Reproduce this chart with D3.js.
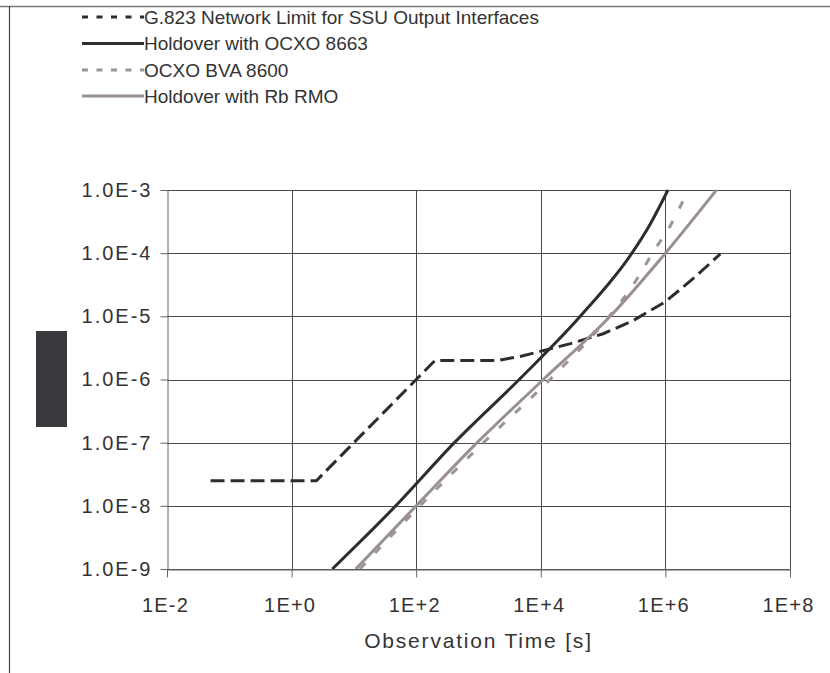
<!DOCTYPE html>
<html>
<head>
<meta charset="utf-8">
<script src="https://cdn.jsdelivr.net/npm/d3@7"></script>
<style>
  body { margin: 0; background: #fff; }
  svg text { font-family: "Liberation Sans", Arial, sans-serif; fill: #333; }
</style>
</head>
<body>
<div id="chart"></div>
<script>
// observation time [s] vs MTIE [s]
let g823Tau = [0.05, 2.5, 200, 2000, 5000, 1e4, 3e4, 1e5, 3e5, 1e6, 3e6, 7.6e6];
let g823Val = [2.5e-8, 2.5e-8, 2e-6, 2e-6, 2.35e-6, 2.8e-6, 3.7e-6, 5.3e-6, 8.5e-6, 1.7e-5, 4.2e-5, 9.7e-5];

let ocxo8663Tau = [4.5, 47, 410, 4500, 4.3e4, 2.9e5, 5.6e5, 1.1e6];
let ocxo8663Val = [1e-9, 1e-8, 1e-7, 1e-6, 1e-5, 1e-4, 2.8e-4, 1e-3];

let bvaTau = [12.5, 115, 1200, 1.4e4, 1.25e5, 2.9e5, 7.2e5, 1.17e6, 1.9e6];
let bvaVal = [1e-9, 1e-8, 1e-7, 1e-6, 1e-5, 2.95e-5, 1.26e-4, 2.6e-4, 6.6e-4];

let rbTau = [10.7, 100, 950, 1.1e4, 1.3e5, 1e6, 6.6e6];
let rbVal = [1e-9, 1e-8, 1e-7, 1e-6, 1e-5, 1e-4, 1e-3];

let seriesNames = ["G.823 Network Limit for SSU Output Interfaces", "Holdover with OCXO 8663", "OCXO BVA 8600", "Holdover with Rb RMO"];

let xTicks = [1e-2, 1, 1e2, 1e4, 1e6, 1e8];
let xTickLabels = ["1E-2", "1E+0", "1E+2", "1E+4", "1E+6", "1E+8"];
let yTicks = [1e-9, 1e-8, 1e-7, 1e-6, 1e-5, 1e-4, 1e-3];
let yTickLabels = ["1.0E-9", "1.0E-8", "1.0E-7", "1.0E-6", "1.0E-5", "1.0E-4", "1.0E-3"];

let xTitle = "Observation Time [s]";

let width = 830, height = 673;
let plotL = 167, plotR = 790, plotT = 190, plotB = 569;

let svg = d3.select("#chart").append("svg")
  .attr("width", width)
  .attr("height", height);

// outer frame (only top + left edges visible)
svg.append("line").attr("x1", 0).attr("x2", width).attr("y1", 6.5).attr("y2", 6.5)
  .attr("stroke", "#777").attr("stroke-width", 1.5);
svg.append("line").attr("x1", 9.5).attr("x2", 9.5).attr("y1", 6).attr("y2", height)
  .attr("stroke", "#444").attr("stroke-width", 1.2);

// covered y axis title
svg.append("rect").attr("x", 36).attr("y", 331).attr("width", 31).attr("height", 96)
  .attr("fill", "#39393d");

let x = d3.scaleLog().domain([1e-2, 1e8]).range([plotL, plotR]);
let y = d3.scaleLog().domain([1e-9, 1e-3]).range([plotB, plotT]);

// grid
svg.append("g").selectAll("line").data(yTicks).join("line")
  .attr("x1", plotL).attr("x2", plotR)
  .attr("y1", d => Math.round(y(d)) + 0.5).attr("y2", d => Math.round(y(d)) + 0.5)
  .attr("stroke", "#4a4a4a").attr("stroke-width", 1);
svg.append("g").selectAll("line").data(xTicks.slice(1)).join("line")
  .attr("x1", d => Math.round(x(d)) + 0.5).attr("x2", d => Math.round(x(d)) + 0.5)
  .attr("y1", plotT).attr("y2", plotB)
  .attr("stroke", "#4a4a4a").attr("stroke-width", 1);

// axes
let yAxis = svg.append("g")
  .attr("transform", `translate(${plotL + 0.5},0)`)
  .call(d3.axisLeft(y).tickValues(yTicks).tickSize(7).tickSizeOuter(0).tickPadding(8)
    .tickFormat((d, i) => yTickLabels[i]));
let xAxis = svg.append("g")
  .attr("transform", `translate(0,${plotB + 0.5})`)
  .call(d3.axisBottom(x).tickValues(xTicks).tickSize(8).tickSizeOuter(0).tickPadding(20)
    .tickFormat((d, i) => xTickLabels[i]));

svg.selectAll(".domain, .tick line").attr("stroke", "#666");
svg.selectAll(".tick text")
  .attr("font-family", null)
  .style("font-size", "20px")
  .attr("fill", "#333");
yAxis.selectAll(".tick text").style("letter-spacing", "2px");
xAxis.selectAll(".tick text").style("letter-spacing", "1.2px").attr("dx", -2);

svg.append("text")
  .attr("x", (plotL + plotR) / 2).attr("y", 648)
  .attr("text-anchor", "middle")
  .style("font-size", "21px")
  .style("letter-spacing", "1.8px")
  .text(xTitle);

// series
svg.append("clipPath").attr("id", "plotClip")
  .append("rect").attr("x", plotL).attr("y", plotT - 2).attr("width", plotR - plotL).attr("height", plotB - plotT + 2);

function pts(taus, vals) {
  return taus.map((t, i) => [x(t), y(vals[i])]);
}

let series = [
  { name: seriesNames[0], data: pts(g823Tau, g823Val), color: "#2d2d31", dash: "14,6", legDash: "6,8.5", curve: d3.curveLinear },
  { name: seriesNames[1], data: pts(ocxo8663Tau, ocxo8663Val), color: "#2d2d31", dash: null, legDash: null, curve: d3.curveMonotoneX },
  { name: seriesNames[2], data: pts(bvaTau, bvaVal), color: "#9d9494", dash: "8,14", legDash: "6,8.5", curve: d3.curveMonotoneX },
  { name: seriesNames[3], data: pts(rbTau, rbVal), color: "#9a908d", dash: null, legDash: null, curve: d3.curveMonotoneX }
];

let plot = svg.append("g").attr("clip-path", "url(#plotClip)");

for (let s of series) {
  plot.append("path")
    .attr("d", d3.line().curve(s.curve)(s.data))
    .attr("fill", "none")
    .attr("stroke", s.color)
    .attr("stroke-width", 3)
    .attr("stroke-dasharray", s.dash);
}

// legend
let legendY = [17, 43.5, 70, 96];
let legend = svg.append("g");
series.forEach((s, i) => {
  legend.append("line")
    .attr("x1", 82).attr("x2", 144)
    .attr("y1", legendY[i]).attr("y2", legendY[i])
    .attr("stroke", s.color).attr("stroke-width", 3)
    .attr("stroke-dasharray", s.legDash);
  legend.append("text")
    .attr("x", 144).attr("y", legendY[i]).attr("dy", "0.35em")
    .style("font-size", "19px")
    .text(s.name);
});
</script>
</body>
</html>
